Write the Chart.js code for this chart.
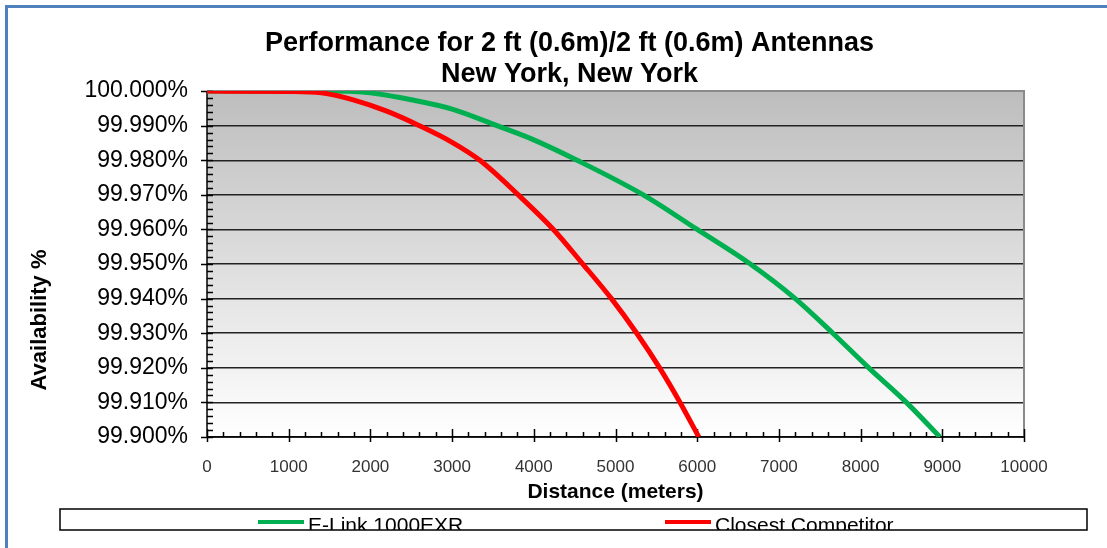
<!DOCTYPE html>
<html>
<head>
<meta charset="utf-8">
<script src="https://cdn.jsdelivr.net/npm/chart.js@4.4.1/dist/chart.umd.min.js"></script>
<style>
	html, body { margin: 0; padding: 0; background: #fff; }
	#wrap { width: 1107px; height: 548px; position: relative; }
</style>
</head>
<body>
<div id="wrap"><canvas id="chart"></canvas></div>
<script>
// distance in metres, availability in %
const elinkDist = [0, 1500, 1800, 2000, 2500, 3000, 3550, 4000, 4530, 5340, 6000, 6650, 7200, 7660, 8100, 8560, 8970];
const elinkAvail = [100, 100, 99.9999, 99.9995, 99.9975, 99.9948, 99.99, 99.9859, 99.98, 99.97, 99.96, 99.95, 99.94, 99.93, 99.92, 99.91, 99.9];

const rivalDist = [0, 1000, 1400, 1800, 2200, 2600, 3000, 3340, 3810, 4240, 4600, 4950, 5260, 5540, 5790, 6020];
const rivalAvail = [100, 99.9999, 99.9995, 99.9974, 99.9942, 99.99, 99.9852, 99.98, 99.97, 99.96, 99.95, 99.94, 99.93, 99.92, 99.91, 99.9];

const xMin = 0, xMax = 10000, xStep = 1000, xMinor = 200;
const yMin = 99.9, yMax = 100, yStep = 0.01, yMinor = 0.002;

const toPoints = (xs, ys) => xs.map((x, i) => ({ x, y: ys[i] }));

Chart.defaults.font.family = "'Liberation Sans', Arial, sans-serif";
Chart.defaults.color = "#000";

const decor = {
	id: "decor",
	beforeDraw(chart) {
		const { ctx, chartArea: a } = chart;
		ctx.save();
		ctx.fillStyle = "#4f81bd";
		ctx.fillRect(5, 5, chart.width - 5, 3);
		ctx.fillRect(5, 5, 3, chart.height - 5);
		const g = ctx.createLinearGradient(0, a.top, 0, a.bottom);
		g.addColorStop(0, "#bdbdbd");
		g.addColorStop(1, "#ffffff");
		ctx.fillStyle = g;
		ctx.fillRect(a.left, a.top, a.right - a.left, a.bottom - a.top);
		ctx.restore();
	},
	beforeDatasetsDraw(chart) {
		const { ctx, chartArea: a, scales: { x, y } } = chart;
		ctx.save();
		ctx.strokeStyle = "#8a8a8a";
		ctx.lineWidth = 2;
		ctx.beginPath();
		ctx.moveTo(a.left, a.top);
		ctx.lineTo(a.right, a.top);
		ctx.lineTo(a.right, a.bottom);
		ctx.stroke();

		ctx.strokeStyle = "#000";
		ctx.lineWidth = 1.5;
		ctx.beginPath();
		ctx.moveTo(a.left, a.top);
		ctx.lineTo(a.left, a.bottom);
		ctx.lineTo(a.right, a.bottom);
		for (let v = xMin; v <= xMax; v += xMinor) {
			const px = Math.round(x.getPixelForValue(v)) + 0.5;
			const major = v % xStep === 0;
			ctx.moveTo(px, a.bottom - (major ? 8 : 5));
			ctx.lineTo(px, a.bottom + (major ? 5 : 0));
		}
		const n = Math.round((yMax - yMin) / yMinor);
		for (let i = 0; i <= n; i++) {
			const py = Math.round(y.getPixelForValue(yMin + i * yMinor)) + 0.5;
			const major = i % 5 === 0;
			ctx.moveTo(a.left - (major ? 6 : 0), py);
			ctx.lineTo(a.left + 6, py);
		}
		ctx.stroke();
		ctx.restore();
	},
	afterDraw(chart) {
		const { ctx } = chart;
		ctx.save();
		// y axis title
		ctx.font = "bold 22px 'Liberation Sans', Arial, sans-serif";
		ctx.fillStyle = "#000";
		ctx.textAlign = "center";
		ctx.textBaseline = "middle";
		ctx.translate(40, 320);
		ctx.rotate(-Math.PI / 2);
		ctx.fillText("Availability %", 0, 0);
		ctx.restore();

		// legend box
		ctx.save();
		const bx = 60, by = 509, bw = 1027, bh = 21;
		ctx.fillStyle = "#fff";
		ctx.fillRect(bx, by, bw, bh);
		ctx.beginPath();
		ctx.rect(bx, by, bw, bh);
		ctx.clip();
		const itemX = [258, 665];
		chart.data.datasets.forEach((ds, i) => {
			ctx.strokeStyle = ds.borderColor;
			ctx.lineWidth = 4;
			ctx.beginPath();
			ctx.moveTo(itemX[i], 522);
			ctx.lineTo(itemX[i] + 46, 522);
			ctx.stroke();
			ctx.fillStyle = "#000";
			ctx.font = "21px 'Liberation Sans', Arial, sans-serif";
			ctx.textAlign = "left";
			ctx.textBaseline = "alphabetic";
			ctx.fillText(ds.label, itemX[i] + 50, 532);
		});
		ctx.restore();
		ctx.save();
		ctx.strokeStyle = "#000";
		ctx.lineWidth = 1.5;
		ctx.strokeRect(bx, by, bw, bh);
		ctx.restore();
	},
};

const data = {
	datasets: [
		{
			label: "E-Link 1000EXR",
			data: toPoints(elinkDist, elinkAvail),
			borderColor: "#00b050",
			borderWidth: 5,
			order: 1,
		},
		{
			label: "Closest Competitor",
			data: toPoints(rivalDist, rivalAvail),
			borderColor: "#ff0000",
			borderWidth: 5,
			order: 0,
		},
	],
};

const options = {
	responsive: true,
	maintainAspectRatio: false,
	animation: false,
	layout: { padding: { left: 40, right: 8, top: 0, bottom: 43 } },
	elements: {
		point: { radius: 0 },
		line: { cubicInterpolationMode: "monotone", fill: false },
	},
	plugins: {
		legend: { display: false },
		tooltip: { enabled: false },
		title: {
			display: true,
			text: ["Performance for 2 ft (0.6m)/2 ft (0.6m) Antennas", "New York, New York"],
			font: { size: 27, weight: "bold", lineHeight: 1.15 },
			color: "#000",
			padding: { top: 28, bottom: 1 },
		},
	},
	scales: {
		x: {
			type: "linear",
			min: xMin,
			max: xMax,
			afterFit: (s) => {
				s.height = 68;
				s.paddingRight = 83;
			},
			grid: { display: false, drawTicks: false },
			border: { display: false },
			ticks: {
				stepSize: xStep,
				padding: 20,
				color: "#333",
				font: { size: 17 },
				maxRotation: 0,
				autoSkip: false,
				callback: (v) => String(v),
			},
			title: {
				display: true,
				text: "Distance (meters)",
				font: { size: 21, weight: "bold" },
				color: "#000",
				padding: { top: 0, bottom: 0 },
			},
		},
		y: {
			min: yMin,
			max: yMax,
			afterFit: (s) => {
				s.width = 167;
			},
			grid: {
				drawTicks: false,
				lineWidth: 1.5,
				color: (c) => (c.tick && c.tick.value > yMax - yStep / 2 ? "rgba(0,0,0,0)" : "#222"),
			},
			border: { display: false },
			ticks: {
				stepSize: yStep,
				padding: 19,
				color: "#000",
				font: { size: 23 },
				callback: (v) => Number(v).toFixed(3) + "%",
			},
		},
	},
};

new Chart(document.querySelector("#chart"), {
	type: "line",
	data,
	options,
	plugins: [decor],
});
</script>
</body>
</html>
